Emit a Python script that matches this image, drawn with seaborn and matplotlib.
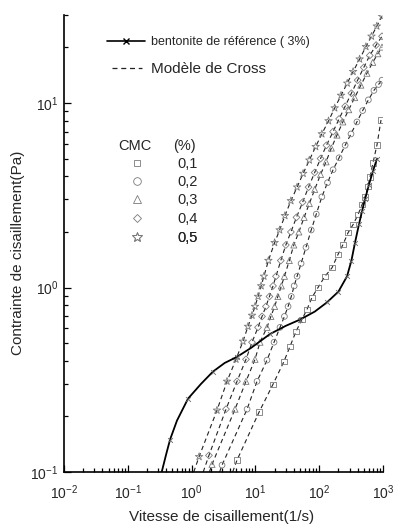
import numpy as np
import pandas as pd
import matplotlib
matplotlib.use('Agg')
import matplotlib.pyplot as plt
import seaborn as sns
from matplotlib.lines import Line2D

# ============================
# DATA
# shear rate (1/s) / shear stress (Pa)
# ============================

# bentonite de reference (3%) - solid line
bento_rate = [0.34, 0.40, 0.46, 0.59, 0.88, 1.4, 2.16, 3.3, 5.1, 8.5, 17, 30, 50,
              85, 132, 200, 273, 320, 364, 420, 470, 522, 600, 700, 805]
bento_tau = [0.10, 0.125, 0.15, 0.19, 0.25, 0.30, 0.35, 0.39, 0.42, 0.47, 0.56, 0.62, 0.67,
             0.74, 0.83, 0.95, 1.15, 1.4, 1.75, 2.2, 2.6, 3.0, 3.6, 4.3, 5.0]

# bentonite measured points (x markers)
bento_pt_rate = [0.46, 0.88, 2.16, 5.1, 17, 50, 132, 200, 273, 320, 364, 420, 470, 522, 600, 700, 805]
bento_pt_tau = [0.15, 0.25, 0.35, 0.42, 0.56, 0.67, 0.83, 0.95, 1.15, 1.4, 1.75, 2.2, 2.6, 3.0, 3.6, 4.3, 5.0]

# CMC 0,1 %
rate_01 = [5.15, 11.4, 18.9, 28.1, 34.9, 43.3, 53.8, 64.4, 77.1, 95.8,
           123, 159, 197, 236, 283, 339, 405, 469, 522, 582,
           626, 697, 805, 931]
tau_01 = [0.116, 0.211, 0.299, 0.398, 0.480, 0.578, 0.672, 0.761, 0.883, 1.00,
          1.15, 1.28, 1.51, 1.71, 1.98, 2.19, 2.48, 2.81, 3.10, 3.52,
          3.98, 4.74, 5.93, 8.09]

# CMC 0,2 %
rate_02 = [3.0, 7.4, 10.6, 15.2, 19.6, 24.3, 28.5, 32.5, 36.5, 40.5, 45,
           52, 62, 75, 90, 110, 135, 165, 205, 255, 315,
           390, 480, 590, 720, 850, 965]
tau_02 = [0.109, 0.219, 0.310, 0.404, 0.505, 0.608, 0.697, 0.789, 0.894, 1.02, 1.15,
          1.35, 1.65, 2.05, 2.5, 3.1, 3.7, 4.35, 5.05, 5.9, 6.8,
          7.9, 9.1, 10.4, 11.7, 12.6, 13.3]

# CMC 0,3 %
rate_03 = [2.09, 4.79, 7.12, 9.86, 11.8, 15.2, 17.5, 20.0, 22.5, 25.5, 28.5,
           34, 40, 48, 58, 70, 85, 105, 128, 155, 190,
           235, 290, 360, 450, 560, 690, 830, 965]
tau_03 = [0.110, 0.219, 0.310, 0.408, 0.505, 0.608, 0.697, 0.789, 0.894, 1.02, 1.15,
          1.4, 1.7, 2.0, 2.4, 2.85, 3.4, 4.1, 4.8, 5.7, 6.7,
          7.9, 9.2, 10.7, 12.5, 14.5, 16.6, 18.5, 20.1]

# CMC 0,4 %
rate_04 = [1.87, 3.46, 5.15, 7.12, 8.85, 10.99, 12.7, 14.6, 16.6, 18.9, 21.0,
           25, 30, 36, 44, 55, 68, 85, 105, 130, 165,
           205, 255, 320, 400, 500, 620, 780, 965]
tau_04 = [0.123, 0.219, 0.310, 0.408, 0.505, 0.608, 0.697, 0.789, 0.894, 1.02, 1.15,
          1.4, 1.7, 2.0, 2.4, 2.9, 3.5, 4.2, 5.0, 5.9, 7.0,
          8.2, 9.6, 11.3, 13.3, 15.6, 18.1, 20.6, 23.0]

# CMC 0,5 %
rate_05 = [1.31, 2.50, 3.59, 4.96, 6.39, 7.65, 8.85, 9.86, 11.0, 12.3, 13.6,
           16, 20, 24, 29, 36, 45, 56, 70, 88, 110,
           140, 175, 220, 275, 340, 430, 540, 660, 800, 965]
tau_05 = [0.121, 0.216, 0.310, 0.408, 0.511, 0.615, 0.706, 0.789, 0.894, 1.02, 1.15,
          1.4, 1.75, 2.05, 2.45, 2.95, 3.5, 4.15, 4.9, 5.8, 6.8,
          8.0, 9.4, 11.0, 12.8, 14.8, 17.3, 20.2, 23.0, 26.1, 29.5]

# lower end of the Cross model lines (where they meet the x axis)
cross_start_rate = [4.4, 2.75, 1.9, 1.52, 1.08]
cross_start_tau = [0.1, 0.1, 0.1, 0.1, 0.1]

cmc_labels = ['0,1', '0,2', '0,3', '0,4', '0,5']
cmc_rates = [rate_01, rate_02, rate_03, rate_04, rate_05]
cmc_taus = [tau_01, tau_02, tau_03, tau_04, tau_05]

# ============================
# STYLE
# ============================

sns.set_style('ticks')
plt.rcParams['font.family'] = ['Liberation Sans', 'DejaVu Sans']
plt.rcParams['mathtext.fontset'] = 'custom'
plt.rcParams['mathtext.rm'] = 'Liberation Sans'
plt.rcParams['mathtext.it'] = 'Liberation Sans:italic'
plt.rcParams['mathtext.bf'] = 'Liberation Sans:bold'
plt.rcParams['mathtext.default'] = 'regular'

markers = ['s', 'o', '^', 'D', '*']
sizes = [15, 17, 19, 12, 32]
mk_color = '#7a7a7a'
dash = (0, (4, 3))

fig = plt.figure(figsize=(3.93, 5.24), dpi=100)
ax = fig.add_axes([64 / 393, 52 / 524, 319 / 393, 457 / 524])
ax.set_xscale('log')
ax.set_yscale('log')

# ============================
# CMC curves + Cross model
# ============================

for i in range(5):
    r = cmc_rates[i]
    t = cmc_taus[i]
    sns.lineplot(x=[cross_start_rate[i]] + r, y=[cross_start_tau[i]] + t,
                 sort=False, estimator=None, color='#222222', lw=0.8,
                 linestyle=dash, ax=ax, zorder=2)
    sns.scatterplot(x=r, y=t, marker=markers[i], s=sizes[i],
                    facecolor='none', edgecolor=mk_color, linewidth=0.6,
                    ax=ax, zorder=3, legend=False)

# ============================
# bentonite reference
# ============================

sns.lineplot(x=bento_rate, y=bento_tau, sort=False, estimator=None,
             color='black', lw=1.3, ax=ax, zorder=4)
sns.scatterplot(x=bento_pt_rate, y=bento_pt_tau, marker='x', s=12,
                color='#666666', linewidth=0.6, ax=ax, zorder=5, legend=False)

ax.set_xlim(0.01, 1000)
ax.set_ylim(0.1, 30)
sns.despine(ax=ax)
for s in ['left', 'bottom']:
    ax.spines[s].set_linewidth(1.2)
    ax.spines[s].set_color('black')

ax.tick_params(which='both', direction='in', color='black', width=0.9)
ax.tick_params(which='major', length=5, labelsize=10)
ax.tick_params(which='minor', length=3)
ax.tick_params(axis='x', pad=8)
ax.tick_params(axis='y', pad=4)

ax.set_xlabel('Vitesse de cisaillement(1/s)', fontsize=11)
ax.set_ylabel('Contrainte de cisaillement(Pa)', fontsize=11)
ax.xaxis.set_label_coords((222 - 64) / 319, (472 - 510) / 457)
ax.yaxis.set_label_coords((25 - 64) / 319, (472 - 253) / 457)

# ============================
# LEGENDS
# ============================

def add_row(handle, label, fs, x_left, y_center, hlen_px, pad_px):
    fpx = fs * 100 / 72
    leg = ax.legend([handle], [label], loc='center left',
                    bbox_to_anchor=(x_left / 393, 1 - y_center / 524),
                    bbox_transform=fig.transFigure, frameon=False,
                    borderpad=0, borderaxespad=0, numpoints=1,
                    handlelength=hlen_px / fpx, handletextpad=pad_px / fpx,
                    fontsize=fs)
    ax.add_artist(leg)

h_bento = Line2D([], [], color='black', lw=1.2, marker='x', ms=5,
                 mec='black', mew=1.0)
add_row(h_bento, 'bentonite de référence ( 3%)', 9, 107, 42, 38, 6)

h_cross = Line2D([], [], color='#222222', lw=0.9, linestyle=dash)
add_row(h_cross, 'Modèle de Cross', 11, 112, 69, 30, 9)

fig.text(118 / 393, 1 - 146 / 524, 'CMC', fontsize=10.5, va='center', ha='left')
fig.text(173 / 393, 1 - 146 / 524, '(%)', fontsize=10.5, va='center', ha='left')

rows_y = [164, 182, 200, 219, 238]
leg_ms = [5, 5.5, 6, 4.5, 7]
for i in range(5):
    h = Line2D([], [], ls='none', marker=markers[i], ms=leg_ms[i],
               mfc='none', mec=mk_color, mew=0.6)
    add_row(h, cmc_labels[i], 10.5, 130, rows_y[i], 14.6, 32.7)

plt.savefig('out.png', dpi=100)
